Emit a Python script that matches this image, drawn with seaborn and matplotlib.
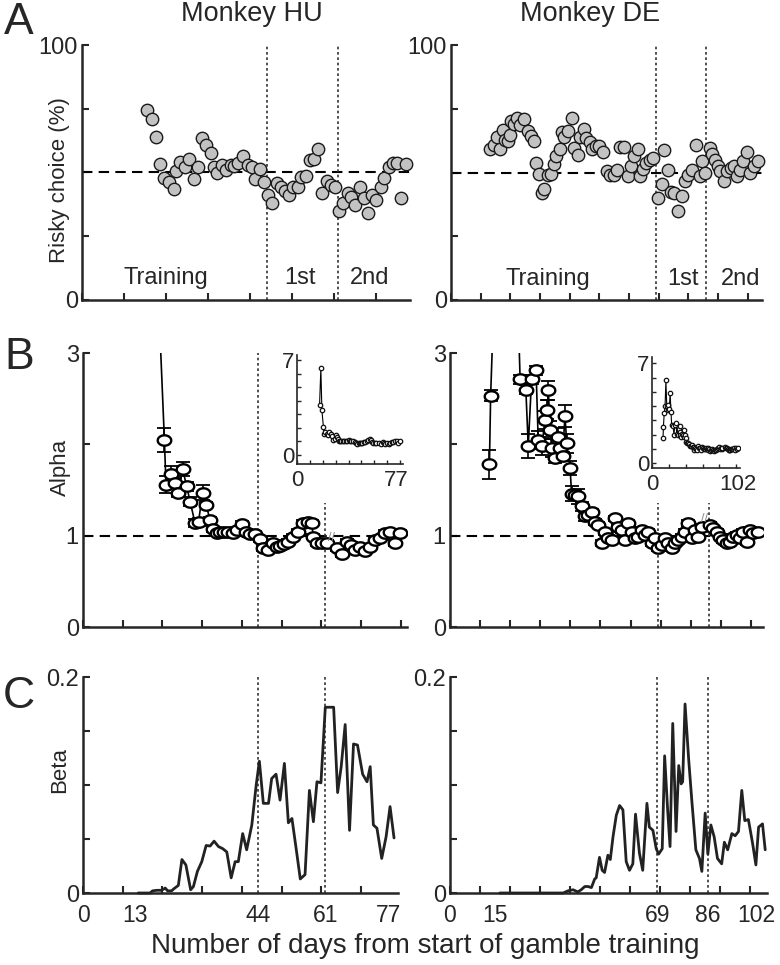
import numpy as np
import matplotlib
matplotlib.use('Agg')
import matplotlib.pyplot as plt
from matplotlib.path import Path
import seaborn as sns

# ==========================================
# Data (days from start of gamble training)
# ==========================================
# Panel A: risky choice (%)
hu_a_day = [15.5, 16.7, 17.7, 18.5, 19.5, 20.7, 21.9, 22.5, 23.4, 24.5, 25.4, 26.6, 27.6, 28.6, 29.6,
            30.7, 31.4, 32.3, 33.3, 34.4, 35.5, 36.3, 37.3, 38.5, 39.5, 40.5, 41.3, 42.4, 43.4, 44.4,
            45.4, 46.4, 47.4, 48.4, 49.4, 50.4, 51.4, 52.2, 53.4, 54.3, 55.3, 56.3, 57.3, 58.3, 59.3,
            60.3, 61.3, 62.2, 63.3, 64.2, 65.2, 66.2, 67.2, 68.2, 69.2, 70.2, 71.2, 72.1, 73.2, 74.1,
            75.1, 76.1, 77.3]
hu_a_pct = [74.5, 70.9, 64, 53.1, 47.9, 46.3, 43.5, 50.3, 53.9, 52.2, 55.2, 47.3, 52, 63.4, 60.7,
            57.7, 52.2, 49.9, 52.9, 50.7, 52.9, 52.5, 53.8, 56.4, 52.9, 52.2, 47.4, 51.2, 46.3, 41.1,
            38.1, 45.9, 44.4, 42.7, 41.1, 44.4, 44.1, 48, 48.6, 54.8, 55.2, 59.2, 42, 46.7, 45,
            44.1, 34.6, 38.1, 41.8, 40.1, 37.2, 44.4, 39.8, 33.9, 41.1, 39.1, 44.1, 47.6, 52.2, 53.5,
            53.8, 39.8, 53.1]

de_a_day = [13.3, 14.6, 15.5, 16.4, 17.5, 18.3, 19.1, 19.8, 20.2, 21.3, 22.2, 23.1, 24.7, 25.8, 27.0,
            27.9, 28.8, 29.6, 30.7, 31.5, 32.6, 33.7, 34.6, 35.5, 36.6, 37.4, 38.2, 39.3, 40.8, 41.3,
            42.7, 43.6, 44.7, 45.6, 46.7, 47.5, 48.7, 49.8, 51.2, 52.6, 53.7, 54.8, 56.0, 57.1, 58.4,
            59.6, 60.7, 61.6, 62.9, 63.8, 64.7, 65.8, 67.0, 68.1, 69.7, 71.1, 71.9, 73.0, 74.2, 75.3,
            76.4, 77.9, 78.7, 79.9, 81.2, 82.7, 83.8, 84.6, 85.7, 87.2, 88.0, 89.1, 89.9, 90.8, 91.9,
            93.0, 94.2, 95.3, 96.4, 97.3, 98.4, 99.6, 100.7, 102.0, 103.4]
de_a_pct = [59.2, 60.9, 64.1, 59.2, 66.8, 62.8, 62.2, 64.8, 70.0, 69.1, 71.3, 68.7, 70.9, 66.1, 64.4,
            62.5, 53.7, 49.5, 42.0, 43.5, 48.9, 49.4, 53.5, 56.6, 59.2, 65.7, 64.1, 66.1, 71.3, 59.6,
            57.0, 64.1, 67.0, 63.5, 61.8, 59.2, 60.5, 60.2, 57.9, 50.5, 48.9, 48.9, 51.1, 60.0, 60.0,
            48.8, 52.7, 56.3, 59.2, 48.5, 51.4, 53.7, 55.0, 55.7, 40.0, 45.6, 58.9, 51.1, 42.2, 42.0,
            34.8, 40.7, 46.5, 49.2, 51.1, 60.9, 48.5, 54.4, 49.8, 59.6, 57.4, 54.8, 52.4, 50.5, 46.5,
            50.5, 51.8, 52.4, 48.5, 51.1, 54.4, 57.9, 49.8, 52.4, 54.6]

# Panel B: alpha (mean +/- error)
hu_b_day = [17.5, 18.5, 19.3, 20.5, 20.9, 22.1, 23.2, 24.0, 25.1, 26.1, 27.0, 28.2, 29.1, 30.1, 31.0,
            32.0, 32.8, 33.7, 34.5, 35.5, 36.6, 37.7, 38.7, 40.0, 41.0, 42.1, 43.3, 44.6, 45.4, 46.7,
            47.8, 48.8, 49.6, 50.6, 51.7, 53.0, 54.2, 55.3, 56.6, 57.6, 58.0, 59.0, 60.1, 61.4, 63.9,
            65.2, 66.4, 67.4, 68.5, 69.8, 71.0, 72.3, 73.6, 74.8, 76.1, 77.3, 78.6, 79.8]
hu_b_alpha = [3.7, 6.4, 3.3, 2.05, 1.56, 1.68, 1.58, 1.47, 1.73, 1.54, 1.37, 1.14, 1.15, 1.47, 1.34,
              1.17, 1.07, 1.03, 1.04, 1.04, 1.04, 1.03, 1.06, 1.13, 1.04, 1.02, 1.02, 0.96, 0.86, 0.84,
              0.92, 0.88, 0.89, 0.91, 0.93, 0.99, 1.04, 1.14, 1.15, 1.14, 0.99, 0.92, 0.92, 0.92, 0.86,
              0.80, 0.93, 0.90, 0.84, 0.88, 0.83, 0.88, 0.95, 0.97, 1.03, 1.04, 0.92, 1.03]
hu_b_err = [0.2, 0.3, 0.2, 0.13, 0.095, 0.08, 0.05, 0.05, 0.08, 0.05, 0.05, 0.04, 0.04, 0.08, 0.03,
            0.03, 0.03, 0.03, 0.03, 0.03, 0.03, 0.03, 0.03, 0.03, 0.03, 0.03, 0.03, 0.03, 0.03, 0.03,
            0.03, 0.03, 0.03, 0.03, 0.03, 0.03, 0.03, 0.03, 0.03, 0.03, 0.03, 0.03, 0.03, 0.03, 0.03,
            0.03, 0.03, 0.03, 0.03, 0.03, 0.03, 0.03, 0.03, 0.03, 0.03, 0.03, 0.03, 0.03]
hu_b_gap = 62.6

de_b_day = [13.1, 13.5, 14.5, 15.5, 16.5, 17.5, 18.5, 19.5, 20.5, 21.5, 22.5, 23.3, 25.2, 26.0, 27.1,
            28.6, 29.3, 30.5, 31.6, 32.3, 32.7, 33.2, 33.8, 34.9, 36.0, 36.5, 37.4, 38.2, 38.8, 39.9,
            40.4, 41.5, 42.6, 43.7, 44.9, 46.0, 47.1, 48.2, 49.3, 50.4, 51.5, 52.6, 53.7, 54.8, 55.9,
            57.0, 58.1, 59.2, 60.4, 61.5, 62.6, 63.7, 64.8, 65.9, 67.0, 68.1, 69.2, 70.3, 71.4, 72.5,
            73.6, 74.8, 75.9, 77.0, 78.1, 79.2, 80.3, 81.4, 82.5, 83.6, 86.4, 87.5, 88.6, 89.7, 90.8,
            91.9, 93.0, 94.1, 95.2, 96.3, 97.5, 98.6, 99.7, 100.8, 102.4]
de_b_alpha = [1.78, 2.53, 3.5, 4.0, 5.8, 4.0, 3.7, 4.1, 3.8, 4.9, 3.6, 2.71, 2.60, 1.98, 2.71,
              2.81, 2.05, 1.98, 2.27, 2.38, 2.59, 2.16, 1.96, 1.85, 2.08, 1.96, 1.87, 2.31, 2.01, 1.74,
              1.46, 1.45, 1.43, 1.32, 1.21, 1.23, 1.26, 1.15, 1.12, 0.92, 1.04, 0.97, 0.95, 1.19, 1.10,
              1.06, 0.95, 1.14, 1.04, 0.97, 0.99, 1.06, 1.01, 1.04, 0.92, 0.97, 0.86, 0.90, 0.97, 0.92,
              0.86, 0.92, 0.95, 0.99, 1.04, 1.14, 0.97, 1.06, 0.99, 1.10, 1.12, 1.08, 1.04, 0.99, 0.95,
              0.92, 0.93, 0.99, 1.01, 0.97, 1.04, 0.93, 1.06, 1.03, 1.04]
de_b_err = [0.16, 0.06, 0.3, 0.3, 0.3, 0.3, 0.3, 0.3, 0.3, 0.3, 0.3, 0.05, 0.05, 0.13, 0.05,
            0.05, 0.1, 0.1, 0.1, 0.1, 0.1, 0.1, 0.1, 0.05, 0.1, 0.1, 0.05, 0.12, 0.1, 0.08,
            0.08, 0.05, 0.08, 0.05, 0.05, 0.03, 0.03, 0.03, 0.03, 0.03, 0.03, 0.03, 0.03, 0.03, 0.03,
            0.03, 0.03, 0.03, 0.03, 0.03, 0.03, 0.03, 0.03, 0.03, 0.03, 0.03, 0.03, 0.03, 0.03, 0.03,
            0.03, 0.03, 0.03, 0.03, 0.03, 0.03, 0.03, 0.03, 0.03, 0.03, 0.03, 0.03, 0.03, 0.03, 0.03,
            0.03, 0.03, 0.03, 0.03, 0.03, 0.03, 0.03, 0.03, 0.03, 0.03]
de_b_gap = 84.4

# Panel C: beta
hu_c_day = [13.9, 15.2, 16.9, 17.5, 18.6, 19.8, 20.7, 21.3, 22.3, 22.9, 24.0, 24.9, 25.9, 27.1, 27.8,
            28.8, 29.9, 31.0, 32.0, 33.0, 34.1, 35.2, 36.2, 37.3, 38.3, 39.1, 40.2, 41.2, 42.5, 43.6,
            44.4, 45.4, 46.7, 47.5, 48.6, 49.6, 50.7, 51.7, 52.6, 53.7, 54.7, 55.9, 57.0, 58.0, 58.9,
            59.9, 61.0, 62.0, 63.1, 64.1, 65.0, 66.0, 67.1, 68.1, 69.1, 70.4, 71.5, 72.3, 73.1, 74.0,
            75.2, 76.3, 77.3, 78.3]
hu_c_beta = [0, 0, 0, 0.002, 0.0025, 0.0025, 0.0046, 0.002, 0.002, 0.004, 0.007, 0.031, 0.026, 0.003, 0.006,
             0.020, 0.029, 0.044, 0.0435, 0.048, 0.043, 0.041, 0.038, 0.014, 0.029, 0.029, 0.055, 0.040, 0.063, 0.100,
             0.122, 0.083, 0.083, 0.106, 0.110, 0.086, 0.120, 0.065, 0.069, 0.040, 0.013, 0.017, 0.095, 0.066, 0.103,
             0.102, 0.172, 0.172, 0.172, 0.093, 0.117, 0.156, 0.058, 0.138, 0.137, 0.110, 0.103, 0.117, 0.063, 0.060,
             0.032, 0.052, 0.080, 0.051]

de_c_day = [16.6, 37.7, 39.3, 41.0, 42.6, 43.7, 44.9, 46.0, 47.1, 48.2, 48.7, 49.8, 50.7, 51.5, 52.6,
            53.4, 54.3, 55.4, 56.5, 57.6, 58.7, 59.8, 60.9, 61.8, 63.1, 64.2, 65.6, 66.4, 67.6, 68.7,
            69.5, 70.7, 71.5, 72.5, 73.3, 74.2, 75.3, 76.2, 77.0, 77.5, 78.3, 79.5, 80.6, 81.9, 83.1,
            83.9, 85.0, 85.9, 86.9, 88.0, 89.1, 90.5, 91.4, 92.5, 93.9, 95.0, 96.1, 97.2, 98.2, 99.4,
            100.8, 101.9, 102.8, 104.1, 105.0]
de_c_beta = [0, 0, 0.002, 0.003, 0.001, 0.003, 0.006, 0.006, 0.005, 0.013, 0.014, 0.033, 0.021, 0.019, 0.035,
             0.031, 0.052, 0.072, 0.081, 0.077, 0.029, 0.021, 0.027, 0.073, 0.037, 0.021, 0.083, 0.061, 0.058, 0.041,
             0.036, 0.041, 0.127, 0.077, 0.043, 0.157, 0.057, 0.118, 0.101, 0.103, 0.175, 0.124, 0.084, 0.040, 0.032,
             0.020, 0.074, 0.036, 0.063, 0.052, 0.032, 0.027, 0.047, 0.040, 0.055, 0.053, 0.057, 0.095, 0.067, 0.068,
             0.046, 0.026, 0.061, 0.064, 0.040]

# start of 1st / 2nd test block
hu_blocks = [44, 61]
de_blocks = [69, 86]
hu_day_labels = [0, 13, 44, 61, 77]
de_day_labels = [0, 15, 69, 86, 102]

# ==========================================
# Style
# ==========================================
sns.set_style('ticks')
plt.rcParams['font.family'] = ['Liberation Sans', 'DejaVu Sans']
plt.rcParams['axes.linewidth'] = 1.8

W, H = 780, 965
fig = plt.figure(figsize=(W / 100, H / 100), dpi=100)


def place(l, r, t, b):
    return fig.add_axes([l / W, 1 - b / H, (r - l) / W, (b - t) / H])


def base(ax, xmax, ylim, yticks, ylabels, xstep=10, ylabelsize=17):
    ax.set_xlim(0, xmax)
    ax.set_ylim(*ylim)
    ax.set_xticks(np.arange(0, xmax, xstep))
    ax.set_xticklabels([])
    ax.set_yticks(yticks)
    ax.set_yticklabels(ylabels)
    sns.despine(ax=ax)
    ax.tick_params(direction='in', length=5, width=1.5, labelsize=ylabelsize, pad=3)
    ax.patch.set_alpha(0)


def day_labels(ax, days, size=16.5, pad=8):
    # labels sit on their own (tick-less) minor locations, even where a major tick is
    ax.xaxis.remove_overlapping_locs = False
    ax.set_xticks(days, minor=True)
    ax.set_xticklabels([str(d) for d in days], minor=True)
    ax.tick_params(axis='x', which='minor', length=0, labelsize=size, pad=pad)


def with_gap(day, val, gap):
    day = np.asarray(day, float)
    val = np.asarray(val, float)
    i = np.searchsorted(day, gap)
    return np.insert(day, i, np.nan), np.insert(val, i, np.nan)


dotted = dict(color='#333333', ls=(0, (1.6, 1.6)), lw=1.2, zorder=1)
dashed = dict(color='black', ls=(0, (5, 3)), lw=1.5, zorder=1)

theta = np.linspace(0, 2 * np.pi, 41)
oval = Path(np.c_[1.3 * np.cos(theta), np.sin(theta)], closed=True)

cols = [
    dict(ad=hu_a_day, ap=hu_a_pct, bd=hu_b_day, ba=hu_b_alpha, be=hu_b_err, gap=hu_b_gap,
         cd=hu_c_day, cb=hu_c_beta, blocks=hu_blocks, labels=hu_day_labels,
         a_rect=(82, 410, 45, 299.5), a_xmax=78.2, b_rect=(83, 407, 353, 627), b_xmax=81.6,
         c_rect=(83, 398, 677, 893), c_xmax=79.3, in_rect=(297, 403, 355, 464), in_xmax=82.2,
         in_ylim=(-0.66, 7.37), in_step=10, b_vtop=[3, 1.36],
         sections=[(19.9, 'Training'), (52, '1st'), (68.5, '2nd')]),
    dict(ad=de_a_day, ap=de_a_pct, bd=de_b_day, ba=de_b_alpha, be=de_b_err, gap=de_b_gap,
         cd=de_c_day, cb=de_c_beta, blocks=de_blocks, labels=de_day_labels,
         a_rect=(451, 762, 45, 300), a_xmax=104.8, b_rect=(450, 763, 353, 627), b_xmax=104,
         c_rect=(450, 767, 677, 893), c_xmax=105.6, in_rect=(652, 740, 357, 468), in_xmax=104.4,
         in_ylim=(-0.33, 7.44), in_step=20, b_vtop=[1.36, 1.36],
         sections=[(32.8, 'Training'), (78.3, '1st'), (97.5, '2nd')]),
]

for c in cols:
    # ---- A: risky choice ----
    ax = place(*c['a_rect'])
    base(ax, c['a_xmax'], (0, 100), [0, 25, 50, 75, 100], ['0', '', '', '', '100'])
    ax.axhline(50, **dashed)
    for d in c['blocks']:
        ax.axvline(d, **dotted)
    sns.scatterplot(x=c['ad'], y=c['ap'], ax=ax, s=80, color='#c2c2c2',
                    edgecolor='#1a1a1a', linewidth=1.0, zorder=3, clip_on=False)
    for x, s in c['sections']:
        ax.text(x, 8.3, s, ha='center', va='center', fontsize=17)

    # ---- B: alpha ----
    ax = place(*c['b_rect'])
    base(ax, c['b_xmax'], (0, 3), [0, 1, 2, 3], ['0', '1', '', '3'])
    ax.axhline(1, **dashed)
    for d, top in zip(c['blocks'], c['b_vtop']):
        ax.vlines(d, 0, top, **dotted)
    gx, gy = with_gap(c['bd'], c['ba'], c['gap'])
    ax.plot(gx, gy, color='black', lw=1.2, zorder=2)
    ax.errorbar(c['bd'], c['ba'], yerr=c['be'], fmt='none', ecolor='black',
                elinewidth=1.2, capsize=5, capthick=1.3, zorder=2)
    sns.scatterplot(x=c['bd'], y=c['ba'], ax=ax, marker=oval, s=95, color='white',
                    edgecolor='black', linewidth=1.7, zorder=3)
    ax.text(c['gap'], np.interp(c['gap'], c['bd'], c['ba']) + 0.08, '//', color='#888888',
            fontsize=9, ha='center', va='center', zorder=4)

    # inset: full alpha range
    ai = place(*c['in_rect'])
    base(ai, c['in_xmax'], c['in_ylim'], list(range(8)), ['0', '', '', '', '', '', '', '7'],
         xstep=c['in_step'], ylabelsize=16)
    ai.tick_params(length=3, width=1.0, pad=2)
    for sp in ai.spines.values():
        sp.set_linewidth(1.2)
    day_labels(ai, [0, c['labels'][-1]], size=16, pad=4)
    ai.plot(gx, gy, color='black', lw=0.8, marker='o', ms=3.2, mfc='white', mec='#111111', mew=0.9)

    # ---- C: beta ----
    ax = place(*c['c_rect'])
    base(ax, c['c_xmax'], (0, 0.2), [0, 0.05, 0.1, 0.15, 0.2], ['0', '', '', '', '0.2'])
    for d in c['blocks']:
        ax.axvline(d, **dotted)
    sns.lineplot(x=c['cd'], y=c['cb'], ax=ax, color='#222222', lw=2.0,
                 estimator=None, sort=False, zorder=3, clip_on=False)
    day_labels(ax, c['labels'])

# ==========================================
# Shared text
# ==========================================
fig.text(252 / W, 1 - 14 / H, 'Monkey HU', ha='center', va='center', fontsize=19.5)
fig.text(590 / W, 1 - 14 / H, 'Monkey DE', ha='center', va='center', fontsize=19.5)
for letter, y in [('A', 22), ('B', 357), ('C', 697)]:
    fig.text(19 / W, 1 - y / H, letter, ha='center', va='center', fontsize=32)
fig.text(60 / W, 1 - 180 / H, 'Risky choice (%)', rotation=90, ha='center', va='center', fontsize=16)
fig.text(60 / W, 1 - 467 / H, 'Alpha', rotation=90, ha='center', va='center', fontsize=16)
fig.text(60 / W, 1 - 770 / H, 'Beta', rotation=90, ha='center', va='center', fontsize=16)
fig.text(425 / W, 1 - 946 / H, 'Number of days from start of gamble training',
         ha='center', va='center', fontsize=20)

fig.savefig('out.png', dpi=100)
print("saved out.png")
